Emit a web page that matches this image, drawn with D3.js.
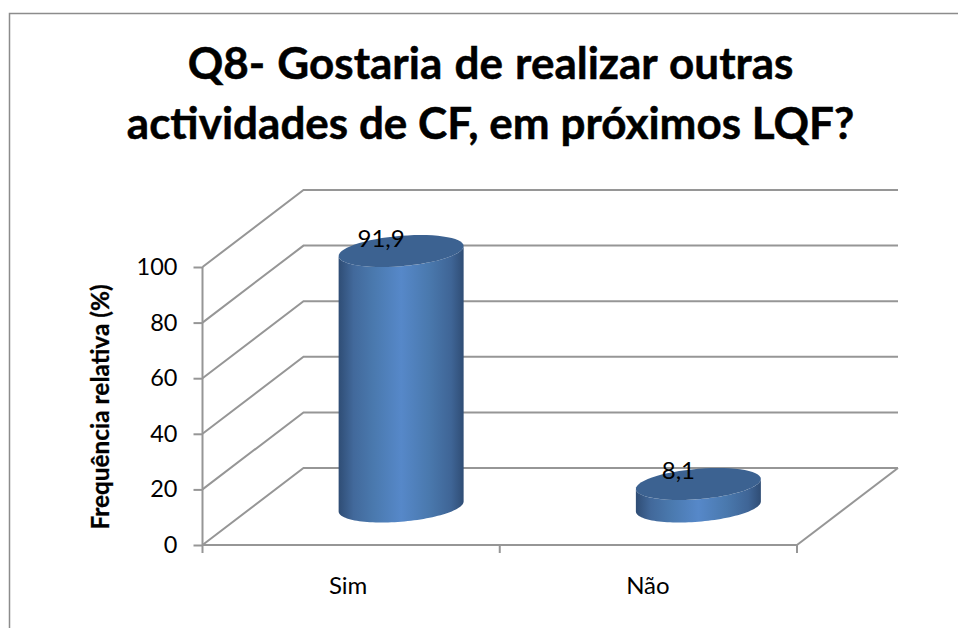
<!DOCTYPE html>
<html><head><meta charset="utf-8">
<script src="https://cdnjs.cloudflare.com/ajax/libs/d3/7.8.5/d3.min.js"></script>
<style>html,body{margin:0;padding:0;background:#fff}svg{display:block}text{font-family:Lato,sans-serif;fill:#000}</style>
</head><body><div id="c"></div>
<script>
const categories = ["Sim", "Não"];
const values = [91.9, 8.1];
const valueLabels = ["91,9", "8,1"];
const yTicks = [0, 20, 40, 60, 80, 100];
const titleLines = ["Q8- Gostaria de realizar outras", "actividades de CF, em próximos LQF?"];
const yTitle = "Frequência relativa (%)";

const W = 958, H = 628;
const svg = d3.select("#c").append("svg").attr("width", W).attr("height", H);
const grid = "#969696";

// frame
svg.append("path").attr("d", "M9.5,628V13.5H958").attr("fill", "none").attr("stroke", "#8c8c8c").attr("stroke-width", 1.5);

// title
svg.selectAll("text.t").data(titleLines).join("text").attr("class", "t")
  .attr("x", 490.5).attr("y", (d, i) => 78.5 + i * 60).attr("text-anchor", "middle")
  .attr("font-size", 44).attr("font-weight", 700)
  .attr("word-spacing", (d, i) => i === 0 ? 1.5 : 0)
  .attr("stroke", "#000").attr("stroke-width", 0.5).text(d => d);

// scales
const left = 202.5, right = 797, y0 = 545, y100 = 267;
const depthX = 101, depthY = -77;
const y = d3.scaleLinear().domain([0, 100]).range([y0, y100]);
const x = d3.scaleBand().domain(categories).range([left, right]);

// side wall + back wall gridlines
const gridG = svg.append("g");
gridG.selectAll("path").data(yTicks).join("path")
  .attr("d", d => `M${left},${y(d)}L${left + depthX},${y(d) + depthY}H${right + depthX}`)
  .attr("fill", "none").attr("stroke", grid).attr("stroke-width", 2);
// floor right edge
gridG.append("line").attr("x1", right).attr("y1", y0).attr("x2", right + depthX).attr("y2", y0 + depthY)
  .attr("stroke", grid).attr("stroke-width", 2);

// axes
const axisL = svg.append("g").attr("transform", `translate(${left},0)`)
  .call(d3.axisLeft(y).tickValues(yTicks).tickSize(9).tickPadding(16));
const axisB = svg.append("g").attr("transform", `translate(0,${y0})`)
  .call(d3.axisBottom(x).tickSize(0).tickPadding(32));
axisB.append("g").selectAll("line").data([left, (left + right) / 2, right]).join("line")
  .attr("x1", d => d).attr("x2", d => d).attr("y1", 0).attr("y2", 8).attr("stroke", grid).attr("stroke-width", 2);
[axisL, axisB].forEach(a => {
  a.selectAll(".domain").attr("stroke", grid).attr("stroke-width", 2).attr("d", function () {
    return a === axisL ? `M0,${y0}V${y100}` : `M${left},0H${right}`;
  });
  a.selectAll(".tick line").attr("stroke", grid).attr("stroke-width", 2);
  a.selectAll(".tick text").attr("font-size", 23.5).attr("font-family", "Lato").attr("fill", "#000");
});
axisB.selectAll(".tick text").attr("font-size", 24).attr("dy", "0.71em").attr("dx", (d, i) => i === 0 ? -3 : -0.5);

// y title
svg.append("text").attr("transform", "translate(109,407) rotate(-90)").attr("text-anchor", "middle")
  .attr("font-size", 24.4).attr("font-weight", 700).attr("stroke", "#000").attr("stroke-width", 0.3).text(yTitle);

// cylinders
const defs = svg.append("defs");
const grad = defs.append("linearGradient").attr("id", "body").attr("x1", 0).attr("x2", 1).attr("y1", 0).attr("y2", 0);
[[0, "#2f4d75"], [0.12, "#42699b"], [0.28, "#4a79ae"], [0.5, "#5688c9"], [0.72, "#4a79ae"], [0.9, "#3f6596"], [1, "#2f4d75"]]
  .forEach(s => grad.append("stop").attr("offset", s[0]).attr("stop-color", s[1]));

const rx = 62.5, skew = -5, ry = 15.2;
const barCx = i => x(categories[i]) + x.bandwidth() / 2 + 50;
const baseOff = depthY / 2;
const ell = (cx, cy, from, to) => d3.range(0, 61).map(k => {
  const t = from + (to - from) * k / 60;
  return [cx + rx * Math.cos(t), cy + skew * Math.cos(t) + ry * Math.sin(t)];
});
const line = d3.line();
values.forEach((v, i) => {
  const cx = barCx(i), yb = y(0) + baseOff, yt = y(v) + baseOff;
  const g = svg.append("g");
  const bottom = ell(cx, yb, 0, Math.PI);
  const top = ell(cx, yt, Math.PI, 0);
  g.append("path").attr("d", line(bottom.concat(top)) + "Z").attr("fill", "url(#body)");
  g.append("path").attr("d", line(ell(cx, yt, 0, 2 * Math.PI)) + "Z").attr("fill", "#3c6291");
  g.append("text").attr("x", cx - 20).attr("y", yt - 4.5).attr("text-anchor", "middle")
    .attr("font-size", 24).text(valueLabels[i]);
});
</script></body></html>
